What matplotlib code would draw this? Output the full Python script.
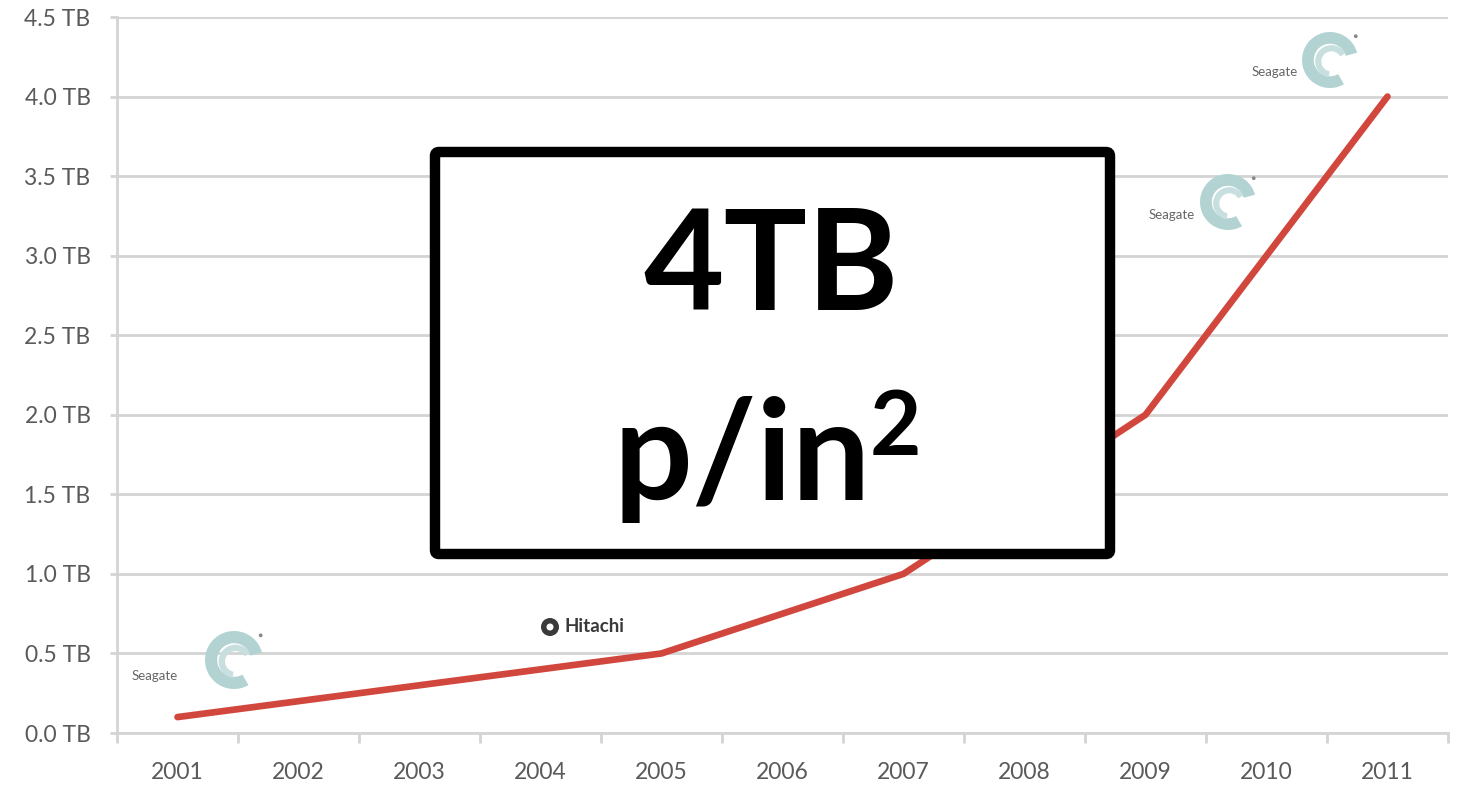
import matplotlib
matplotlib.use("Agg")
import matplotlib.pyplot as plt
from matplotlib.patches import FancyBboxPatch, Wedge, Circle

years = ["2001", "2002", "2003", "2004", "2005", "2006", "2007", "2008", "2009", "2010", "2011"]
capacity_tb = [0.1, 0.2, 0.3, 0.4, 0.5, 0.75, 1.0, 1.5, 2.0, 3.0, 4.0]
y_ticks = [0.0, 0.5, 1.0, 1.5, 2.0, 2.5, 3.0, 3.5, 4.0, 4.5]
y_tick_labels = [f"{v:.1f} TB" for v in y_ticks]

W, H = 1459, 800
fig = plt.figure(figsize=(W / 100, H / 100), dpi=100)
fig.patch.set_facecolor("white")

ax = fig.add_axes([117 / W, 1 - 733 / H, (1448 - 117) / W, (733 - 17) / H])
x = list(range(len(years)))
ax.plot(x, capacity_tb, color="#d2473d", lw=4.8, solid_capstyle="round", solid_joinstyle="round", zorder=3)
ax.set_xlim(-0.5, len(years) - 0.5)
ax.set_ylim(0, 4.5)
ax.set_yticks(y_ticks)
ax.set_yticklabels(y_tick_labels)
ax.set_xticks(x)
ax.set_xticklabels(years)
ax.set_xticks([i - 0.5 for i in range(len(years) + 1)], minor=True)

grid_c = "#d4d4d4"
ax.grid(axis="y", color=grid_c, lw=2.0, zorder=0)
for s in ["top", "right"]:
    ax.spines[s].set_visible(False)
ax.spines["left"].set_color(grid_c)
ax.spines["left"].set_linewidth(2.0)
ax.spines["bottom"].set_color(grid_c)
ax.spines["bottom"].set_linewidth(2.0)
ax.tick_params(axis="y", length=5, width=2, color=grid_c, labelsize=16.5, labelcolor="#5a5a5a", pad=14)
ax.tick_params(axis="x", which="major", length=0, labelsize=16.5, labelcolor="#5a5a5a", pad=21)
ax.tick_params(axis="x", which="minor", length=7, width=2, color=grid_c)
for lab in ax.get_xticklabels() + ax.get_yticklabels():
    lab.set_fontfamily("Lato")

# overlay in pixel coordinates for annotations
ov = fig.add_axes([0, 0, 1, 1], zorder=5)
ov.set_xlim(0, W)
ov.set_ylim(H, 0)
ov.axis("off")
ov.patch.set_alpha(0)

teal = "#b3d3d3"

def seagate(tx, ty, cx, cy, r):
    ov.text(tx, ty, "Seagate", fontsize=9.5, color="#666666", family="Lato", ha="right", va="center")
    ov.add_patch(Wedge((cx, cy), r, 60, 345, width=r * 0.42, facecolor=teal, edgecolor="none"))
    ov.add_patch(Wedge((cx + r * 0.05, cy + r * 0.05), r * 0.58, 100, 330, width=r * 0.22,
                       facecolor="#c7dfdf", edgecolor="none"))
    ov.add_patch(Circle((cx + r * 0.92, cy - r * 0.85), 1.2, color="#888888"))

seagate(178, 676, 234, 660, 29)
seagate(1195, 215, 1228, 202, 28)
seagate(1298, 72, 1330, 60, 28)

ov.add_patch(Circle((550, 627), 9, facecolor="#3a3a3a", edgecolor="none"))
ov.add_patch(Circle((550, 627), 3.5, facecolor="white", edgecolor="none"))
ov.text(564, 627, "Hitachi", fontsize=13.5, weight="bold", color="#3a3a3a", family="Lato", ha="left", va="center")

box = FancyBboxPatch((435, 152), 675, 402, boxstyle="round,pad=0,rounding_size=4",
                     facecolor="white", edgecolor="black", lw=7.5)
ov.add_patch(box)
ov.text(771, 310, "4TB", fontsize=100, weight="bold", family="Lato", color="black",
        ha="center", va="baseline")
ov.text(613, 500, "p/in", fontsize=100, weight="bold", family="Lato", color="black",
        ha="left", va="baseline")
ov.text(870, 455, "2", fontsize=64, weight="bold", family="Lato", color="black",
        ha="left", va="baseline")

fig.savefig("out.png", dpi=100, facecolor="white")
